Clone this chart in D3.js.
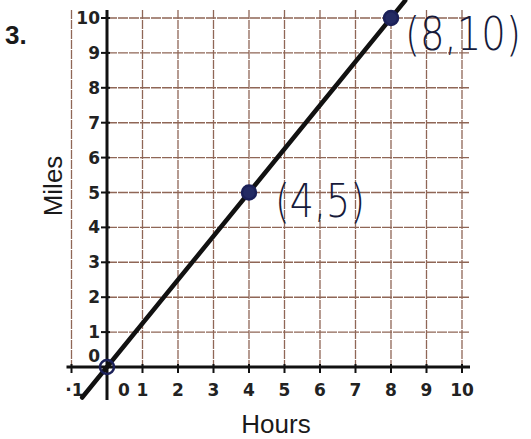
<!DOCTYPE html>
<html>
<head>
<meta charset="utf-8">
<script src="https://cdn.jsdelivr.net/npm/d3@7"></script>
<style>
  body { margin: 0; background: #fff; }
  svg text { font-family: "Liberation Sans", Arial, sans-serif; }
</style>
</head>
<body>
<div id="chart"></div>
<script>
var xTicks = [-1, 0, 1, 2, 3, 4, 5, 6, 7, 8, 9, 10];
var yTicks = [0, 1, 2, 3, 4, 5, 6, 7, 8, 9, 10];
var points = [
  {hours: 0, miles: 0, label: ""},
  {hours: 4, miles: 5, label: "(4,5)"},
  {hours: 8, miles: 10, label: "(8,10)"}
];
var lineEnds = [{hours: -0.7, miles: -0.875}, {hours: 8.4, miles: 10.5}];

var width = 531, height = 439;

var svg = d3.select("#chart")
  .append("svg")
    .attr("width", width)
    .attr("height", height);

var x = d3.scaleLinear().domain([0, 10]).range([107, 462]);
var y = d3.scaleLinear().domain([0, 10]).range([367, 18]);

var gridColor = "#8f6656";

// vertical grid lines
svg.append("g")
  .selectAll("line")
  .data(xTicks.filter(function(d) { return d !== 0; }))
  .enter()
  .append("line")
    .attr("x1", function(d) { return x(d); })
    .attr("x2", function(d) { return x(d); })
    .attr("y1", y(10) - 8)
    .attr("y2", y(0))
    .attr("stroke", gridColor)
    .attr("stroke-width", 1.3)
    .attr("stroke-dasharray", "9,1");

// horizontal grid lines
svg.append("g")
  .selectAll("line")
  .data(yTicks.filter(function(d) { return d !== 0; }))
  .enter()
  .append("line")
    .attr("x1", x(0))
    .attr("x2", x(10) + 8)
    .attr("y1", function(d) { return y(d); })
    .attr("y2", function(d) { return y(d); })
    .attr("stroke", gridColor)
    .attr("stroke-width", 1.4)
    .attr("stroke-dasharray", "10,1");

// axes lines
svg.append("line")
  .attr("x1", x(-1) - 5).attr("x2", x(10) + 8)
  .attr("y1", y(0)).attr("y2", y(0))
  .attr("stroke", "#111").attr("stroke-width", 3);
svg.append("line")
  .attr("x1", x(0)).attr("x2", x(0))
  .attr("y1", y(10) - 8).attr("y2", y(0) + 33)
  .attr("stroke", "#111").attr("stroke-width", 3);

// ticks
svg.append("g")
  .selectAll("line")
  .data(xTicks.filter(function(d) { return d !== 0; }))
  .enter()
  .append("line")
    .attr("x1", function(d) { return x(d); })
    .attr("x2", function(d) { return x(d); })
    .attr("y1", y(0) - 3)
    .attr("y2", y(0) + 6)
    .attr("stroke", "#111").attr("stroke-width", 2);
svg.append("g")
  .selectAll("line")
  .data(yTicks.filter(function(d) { return d !== 0; }))
  .enter()
  .append("line")
    .attr("x1", x(0) - 6)
    .attr("x2", x(0) + 3)
    .attr("y1", function(d) { return y(d); })
    .attr("y2", function(d) { return y(d); })
    .attr("stroke", "#111").attr("stroke-width", 2);

// tick labels
svg.append("g")
  .selectAll("text")
  .data(xTicks)
  .enter()
  .append("text")
    .attr("x", function(d) { return d === 0 ? x(0) + 17 : (d === -1 ? x(-1) + 3 : x(d)); })
    .attr("y", y(0) + 29)
    .attr("text-anchor", "middle")
    .style("font-family", "'DejaVu Sans', sans-serif")
    .style("font-size", "17px")
    .style("font-weight", "bold")
    .attr("fill", "#222")
    .text(function(d) { return d === -1 ? "·1" : d; });

svg.append("g")
  .selectAll("text")
  .data(yTicks)
  .enter()
  .append("text")
    .attr("x", x(0) - 7)
    .attr("y", function(d) { return d === 0 ? y(0) - 5 : y(d) + 6; })
    .attr("text-anchor", "end")
    .style("font-family", "'DejaVu Sans', sans-serif")
    .style("font-size", "17px")
    .style("font-weight", "bold")
    .attr("fill", "#222")
    .text(function(d) { return d; });

// axis titles
svg.append("text")
  .attr("x", 276)
  .attr("y", 433)
  .attr("text-anchor", "middle")
  .style("font-size", "26px")
  .attr("fill", "#1a1a1a")
  .text("Hours");

svg.append("text")
  .attr("transform", "translate(62,186) rotate(-90)")
  .attr("text-anchor", "middle")
  .style("font-size", "26px")
  .attr("fill", "#1a1a1a")
  .text("Miles");

svg.append("text")
  .attr("x", 5)
  .attr("y", 44)
  .style("font-size", "26px")
  .style("font-weight", "bold")
  .attr("fill", "#1a1a1a")
  .text("3.");

// the drawn line
var line = d3.line()
  .x(function(d) { return x(d.hours); })
  .y(function(d) { return y(d.miles); });

svg.append("path")
  .datum(lineEnds)
  .attr("d", line)
  .attr("fill", "none")
  .attr("stroke", "#111")
  .attr("stroke-width", 4.5)
  .attr("stroke-linecap", "round");

// points
svg.append("g")
  .selectAll("circle")
  .data(points)
  .enter()
  .append("circle")
    .attr("cx", function(d) { return x(d.hours); })
    .attr("cy", function(d) { return y(d.miles); })
    .attr("r", 7)
    .attr("fill", function(d) { return d.hours === 0 ? "none" : "#232a63"; })
    .attr("stroke", "#1b2058")
    .attr("stroke-width", 2.5);

// handwritten coordinate labels, squeezed sideways to look like pen writing
var isTop = function(d) { return d.miles === 10; };
svg.append("g")
  .selectAll("text")
  .data(points.filter(function(d) { return d.label; }))
  .enter()
  .append("text")
    .style("font-family", "'DejaVu Sans', sans-serif")
    .style("font-size", "46px")
    .style("font-weight", "200")
    .attr("fill", "#161a3a")
    .text(function(d) { return d.label; })
    .attr("transform", function(d) {
      var want = isTop(d) ? 116 : 90;
      var sx = want / this.getComputedTextLength();
      var tx = x(d.hours) + (isTop(d) ? 14 : 26);
      var ty = y(d.miles) + (isTop(d) ? 32 : 24);
      return "translate(" + tx + "," + ty + ") scale(" + sx + ",1)";
    });
</script>
</body>
</html>
